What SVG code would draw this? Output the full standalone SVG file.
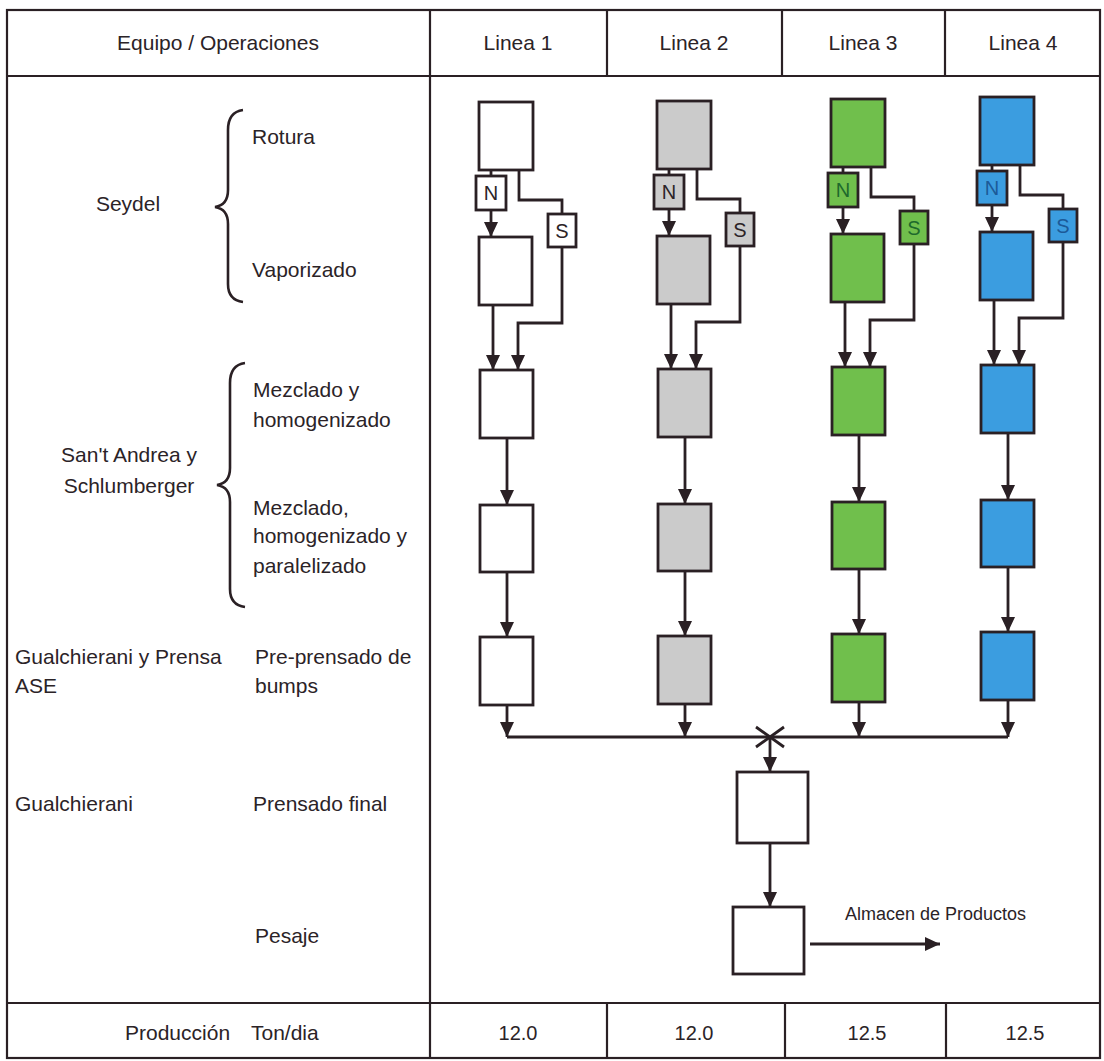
<svg xmlns="http://www.w3.org/2000/svg" width="1104" height="1061" viewBox="0 0 1104 1061">
<style>
text{font-family:"Liberation Sans",Arial,sans-serif;font-size:21px;fill:#2b2327}
.m{text-anchor:middle}
.num{font-size:20px}
.lbl{font-size:18px}
.nt{font-size:20px;text-anchor:middle}
.grid{stroke:#2a2024;stroke-width:2.2;fill:none}
.box{stroke:#2a2024;stroke-width:2.8}
.w{fill:#ffffff}
.g{fill:#cbcbcb}
.gr{fill:#70bf4c}
.b{fill:#3b9de0}
.c{stroke:#2a2024;stroke-width:2.8;fill:none}
.a{marker-end:url(#ah)}
.brace{stroke:#2a2024;stroke-width:2.6;fill:none}
.tg{fill:#1e6a2c}
.tb{fill:#1c5a98}
</style>
<defs>
<marker id="ah" markerUnits="userSpaceOnUse" markerWidth="15" markerHeight="14" refX="15" refY="7" orient="auto">
<path d="M0,0 L15,7 L0,14 z" fill="#2a2024"/>
</marker>
</defs>
<rect width="1104" height="1061" fill="#ffffff"/>
<g id="table">
<rect class="grid" x="7" y="10" width="1093" height="1048"/>
<line class="grid" x1="7" y1="76" x2="1100" y2="76"/>
<line class="grid" x1="430" y1="10" x2="430" y2="1058"/>
<line class="grid" x1="607" y1="10" x2="607" y2="76"/>
<line class="grid" x1="782" y1="10" x2="782" y2="76"/>
<line class="grid" x1="945" y1="10" x2="945" y2="76"/>
<line class="grid" x1="7" y1="1003" x2="1100" y2="1003"/>
<line class="grid" x1="607" y1="1003" x2="607" y2="1058"/>
<line class="grid" x1="785" y1="1003" x2="785" y2="1058"/>
<line class="grid" x1="946" y1="1003" x2="946" y2="1058"/>
</g>
<g id="labels">
<text class="m" x="218" y="50">Equipo / Operaciones</text>
<text class="m" x="518" y="50">Linea 1</text>
<text class="m" x="694" y="50">Linea 2</text>
<text class="m" x="863" y="50">Linea 3</text>
<text class="m" x="1023" y="50">Linea 4</text>
<text class="m" x="128" y="211">Seydel</text>
<text x="252" y="144">Rotura</text>
<text x="252" y="277">Vaporizado</text>
<text x="253" y="397">Mezclado y</text>
<text x="253" y="427">homogenizado</text>
<text class="m" x="129" y="462">San't Andrea y</text>
<text class="m" x="129" y="493">Schlumberger</text>
<text x="253" y="515">Mezclado,</text>
<text x="253" y="543">homogenizado y</text>
<text x="253" y="573">paralelizado</text>
<text x="15" y="664">Gualchierani y Prensa</text>
<text x="15" y="693">ASE</text>
<text x="255" y="664">Pre-prensado de</text>
<text x="255" y="693">bumps</text>
<text x="15" y="811">Gualchierani</text>
<text x="253" y="811">Prensado final</text>
<text x="255" y="943">Pesaje</text>
<text x="125" y="1040">Producción</text>
<text x="251" y="1040">Ton/dia</text>
<text class="m num" x="518" y="1040">12.0</text>
<text class="m num" x="694" y="1040">12.0</text>
<text class="m num" x="867" y="1040">12.5</text>
<text class="m num" x="1025" y="1040">12.5</text>
<text class="lbl" x="845" y="920">Almacen de Productos</text>
</g>
<g id="braces">
<path class="brace" d="M243,110 Q228,112 228,130 L228,190 Q228,205 215,207 Q228,209 228,224 L228,284 Q228,300 243,302"/>
<path class="brace" d="M245,363 Q230,365 230,383 L230,468 Q230,483 217,485 Q230,487 230,502 L230,589 Q230,605 245,607"/>
</g>
<g id="connectors">
<path class="c" d="M491,170 V176"/>
<path class="c a" d="M491,210 V237"/>
<path class="c" d="M519,170 V200 H562 V214"/>
<path class="c a" d="M562,247 V323 H518 V370"/>
<path class="c a" d="M493,305 V370"/>
<path class="c a" d="M507,438 V505"/>
<path class="c a" d="M507,572 V637"/>
<path class="c a" d="M507,705 V737"/>
<path class="c" d="M669,169 V175"/>
<path class="c a" d="M669,209 V236"/>
<path class="c" d="M697,169 V199 H740 V213"/>
<path class="c a" d="M740,246 V322 H696 V369"/>
<path class="c a" d="M671,304 V369"/>
<path class="c a" d="M685,437 V504"/>
<path class="c a" d="M685,571 V636"/>
<path class="c a" d="M685,704 V737"/>
<path class="c" d="M843,167 V173"/>
<path class="c a" d="M843,207 V234"/>
<path class="c" d="M871,167 V197 H914 V211"/>
<path class="c a" d="M914,244 V320 H870 V367"/>
<path class="c a" d="M845,302 V367"/>
<path class="c a" d="M859,435 V502"/>
<path class="c a" d="M859,569 V634"/>
<path class="c a" d="M859,702 V737"/>
<path class="c" d="M992,165 V171"/>
<path class="c a" d="M992,205 V232"/>
<path class="c" d="M1020,165 V195 H1063 V209"/>
<path class="c a" d="M1063,242 V318 H1019 V365"/>
<path class="c a" d="M994,300 V365"/>
<path class="c a" d="M1008,433 V500"/>
<path class="c a" d="M1008,567 V632"/>
<path class="c a" d="M1008,700 V737"/>
<path class="c" d="M507,737 H1008"/>
<path class="c" d="M756,727 L784,747 M756,747 L784,727"/>
<path class="c a" d="M770,737 V772"/>
<path class="c a" d="M770,843 V907"/>
<path class="c a" d="M810,944 H940"/>
</g>
<g id="l1-rotura"><rect class="box w" x="479" y="102" width="54" height="68"/></g>
<g id="l1-n"><rect class="box w" x="476" y="176" width="30" height="34"/><text class="nt" x="491" y="200">N</text></g>
<g id="l1-s"><rect class="box w" x="548" y="214" width="28" height="33"/><text class="nt" x="562" y="238">S</text></g>
<g id="l1-vapor"><rect class="box w" x="479" y="237" width="53" height="68"/></g>
<g id="l1-mezcla"><rect class="box w" x="480" y="370" width="53" height="68"/></g>
<g id="l1-paral"><rect class="box w" x="480" y="505" width="53" height="67"/></g>
<g id="l1-prepren"><rect class="box w" x="480" y="637" width="53" height="68"/></g>
<g id="l2-rotura"><rect class="box g" x="657" y="101" width="54" height="68"/></g>
<g id="l2-n"><rect class="box g" x="654" y="175" width="30" height="34"/><text class="nt" x="669" y="199">N</text></g>
<g id="l2-s"><rect class="box g" x="726" y="213" width="28" height="33"/><text class="nt" x="740" y="237">S</text></g>
<g id="l2-vapor"><rect class="box g" x="657" y="236" width="53" height="68"/></g>
<g id="l2-mezcla"><rect class="box g" x="658" y="369" width="53" height="68"/></g>
<g id="l2-paral"><rect class="box g" x="658" y="504" width="53" height="67"/></g>
<g id="l2-prepren"><rect class="box g" x="658" y="636" width="53" height="68"/></g>
<g id="l3-rotura"><rect class="box gr" x="831" y="99" width="54" height="68"/></g>
<g id="l3-n"><rect class="box gr" x="828" y="173" width="30" height="34"/><text class="nt tg" x="843" y="197">N</text></g>
<g id="l3-s"><rect class="box gr" x="900" y="211" width="28" height="33"/><text class="nt tg" x="914" y="235">S</text></g>
<g id="l3-vapor"><rect class="box gr" x="831" y="234" width="53" height="68"/></g>
<g id="l3-mezcla"><rect class="box gr" x="832" y="367" width="53" height="68"/></g>
<g id="l3-paral"><rect class="box gr" x="832" y="502" width="53" height="67"/></g>
<g id="l3-prepren"><rect class="box gr" x="832" y="634" width="53" height="68"/></g>
<g id="l4-rotura"><rect class="box b" x="980" y="97" width="54" height="68"/></g>
<g id="l4-n"><rect class="box b" x="977" y="171" width="30" height="34"/><text class="nt tb" x="992" y="195">N</text></g>
<g id="l4-s"><rect class="box b" x="1049" y="209" width="28" height="33"/><text class="nt tb" x="1063" y="233">S</text></g>
<g id="l4-vapor"><rect class="box b" x="980" y="232" width="53" height="68"/></g>
<g id="l4-mezcla"><rect class="box b" x="981" y="365" width="53" height="68"/></g>
<g id="l4-paral"><rect class="box b" x="981" y="500" width="53" height="67"/></g>
<g id="l4-prepren"><rect class="box b" x="981" y="632" width="53" height="68"/></g>
<g id="prensado-final"><rect class="box w" x="737" y="772" width="71" height="71"/></g>
<g id="pesaje"><rect class="box w" x="733" y="907" width="71" height="67"/></g>
</svg>
